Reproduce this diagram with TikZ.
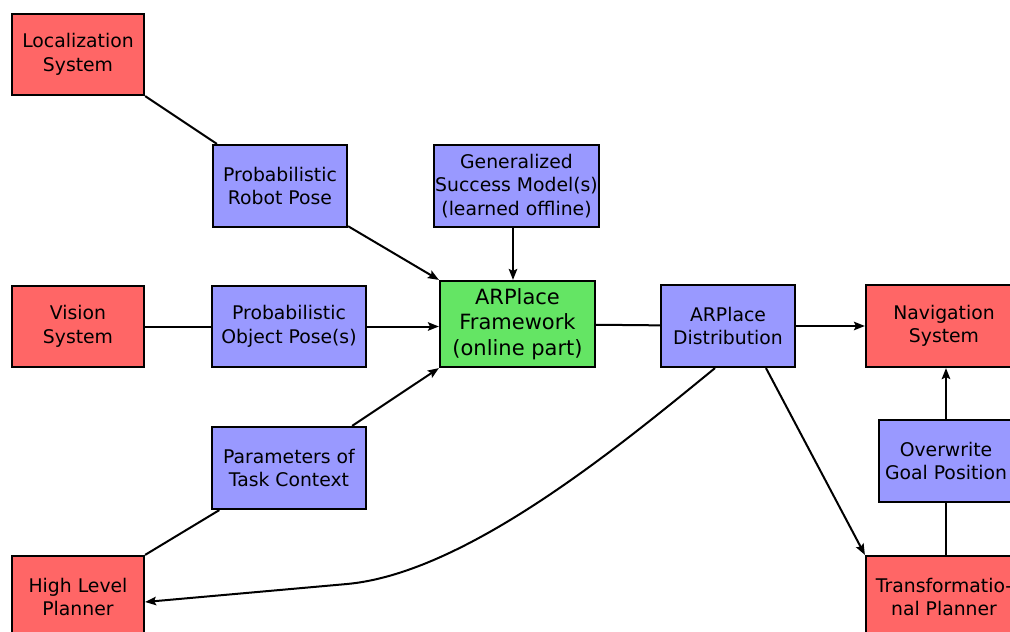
\documentclass[tikz,border=0pt]{standalone}
\usepackage{fontspec}
\setmainfont{DejaVu Sans}
\usetikzlibrary{arrows.meta,calc}
\definecolor{boxred}{RGB}{255,102,102}
\definecolor{boxblue}{RGB}{153,153,255}
\definecolor{boxgreen}{RGB}{100,229,100}
\tikzset{
  box/.style={draw=black,line width=2.2pt,inner sep=0pt,align=center,
    font=\fontsize{18.8}{23.5}\selectfont},
  redbox/.style={box,fill=boxred},
  bluebox/.style={box,fill=boxblue},
  greenbox/.style={box,fill=boxgreen,font=\fontsize{21}{25.7}\selectfont},
  link/.style={line width=2pt},
  arr/.style={link,-{Stealth[length=11pt,width=8.5pt,inset=2pt]}},
}
\begin{document}
\begin{tikzpicture}[x=1pt,y=-1pt]
\useasboundingbox (0,0) rectangle (1010,632);
\clip (0,0) rectangle (1010,632);
\fill[white] (0,0) rectangle (1010,632);
% nodes
\node[redbox,minimum width=132pt,minimum height=81pt] (loc) at (78,54.5) {Localization\\System};
\node[bluebox,minimum width=134pt,minimum height=82pt] (rpose) at (280,186) {Probabilistic\\Robot Pose};
\node[bluebox,minimum width=165pt,minimum height=82pt] (gsm) at (516.5,186) {Generalized\\Success Model(s)\\(learned offline)};
\node[redbox,minimum width=132pt,minimum height=81pt] (vis) at (78,326.5) {Vision\\System};
\node[bluebox,minimum width=154pt,minimum height=81pt] (opose) at (289,326.5) {Probabilistic\\Object Pose(s)};
\node[greenbox,minimum width=155pt,minimum height=86pt] (arp) at (517.5,324) {ARPlace\\Framework\\(online part)};
\node[bluebox,minimum width=134pt,minimum height=82pt] (dist) at (728,326) {ARPlace\\Distribution};
\node[redbox,minimum width=156pt,minimum height=82pt] (nav) at (944,326) {Navigation\\System};
\node[bluebox,minimum width=154pt,minimum height=82pt] (params) at (289,468) {Parameters of\\Task Context};
\node[bluebox,minimum width=134pt,minimum height=82pt] (ogp) at (946,461) {Overwrite\\Goal Position};
\node[redbox,minimum width=132pt,minimum height=82pt] (hlp) at (78,597) {High Level\\Planner};
\node[redbox,minimum width=156pt,minimum height=82pt] (trans) at (944,597) {Transformatio-\\nal Planner};
% connectors
\draw[link] (loc.south east) -- (rpose);
\draw[arr] (rpose) -- (arp.north west);
\draw[arr] ($(gsm.south)+(-3.5,0)$) -- ($(gsm.south |- arp.north)+(-3.5,0)$);
\draw[link] (vis) -- (opose);
\draw[arr] (opose) -- (opose -| arp.west);
\draw[arr] (params) -- (arp.south west);
\draw[link] (hlp.north east) -- (params);
\draw[link] (arp) -- (dist);
\draw[arr] (dist) -- (nav);
\draw[arr] ($(dist.south)+(38,0)$) -- (trans.north west);
\draw[link] (trans.north -| ogp) -- (ogp);
\draw[arr] (ogp.north) -- (ogp.north |- nav.south);
\coordinate (bend) at (347,584);
\draw[arr] ($(dist.south)+(-13,0)$) .. controls (622,444) and (467,573) .. (bend) -- ($(hlp.east)+(0,5)$);
\end{tikzpicture}
\end{document}
